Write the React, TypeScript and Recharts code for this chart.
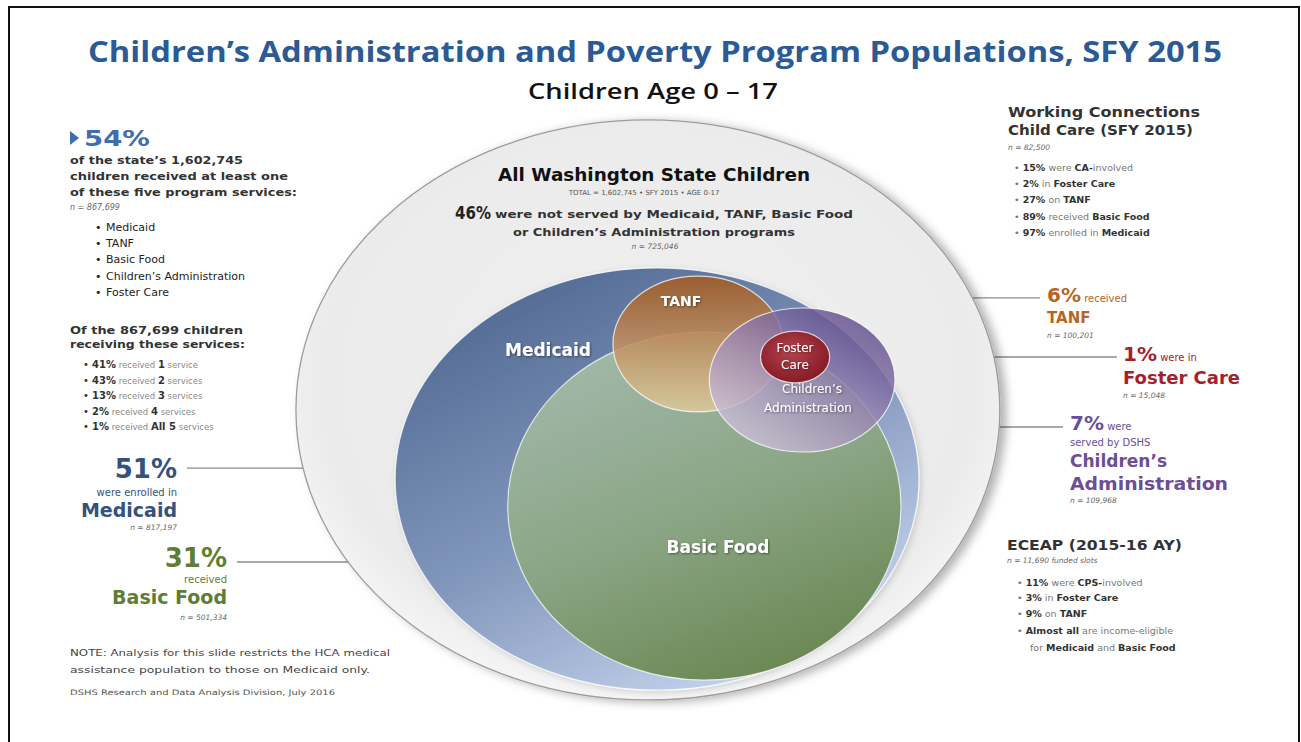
import React from 'react';
import { ScatterChart, Scatter, XAxis, YAxis, ReferenceLine } from 'recharts';

const W = 1301;
const H = 742;

// Euler circles (outer circle ~100 units); the slide is stretched so each has its own x/y radius
const groups = ['All Washington State Children', 'Medicaid', 'Basic Food', 'TANF', "Children's Administration", 'Foster Care'];
const centerX = [-0.6, 2.0, 15.4, 13.6, 43.1, 41.1];
const centerY = [2.1, -21.9, -31.3, 25.0, 12.5, 20.5];
const radiusX = [99.7, 74.2, 55.7, 24.1, 26.3, 9.8];
const radiusY = [100.7, 73.3, 60.4, 23.6, 25.0, 9.0];
const counts = ['1,602,745', '817,197', '501,334', '100,201', '109,968', '15,048'];
const shares = [100, 51, 31, 6, 7, 1];

// leader lines from circle to its callout
const calloutFromX = [-60.3, -22.1, 24.6, 45.9, 47.3];
const calloutToX = [-131.2, -117, 110.5, 132.3, 117];
const calloutY = [-18.1, -50.7, 41, 20.5, -3.8];

// services received by the 867,699 served children
const serviceShares = [41, 43, 13, 2, 1];
const serviceCounts = ['1', '2', '3', '4', 'All 5'];
const serviceWord = ['service', 'services', 'services', 'services', 'services'];
const programList = ['Medicaid', 'TANF', 'Basic Food', 'Children’s Administration', 'Foster Care'];

// pixels per unit
const PX = 3.53;
const PY = 2.88;
const CX0 = 650;
const CY0 = 416;

const circleData = groups.map((g, i) => ({ name: g, x: centerX[i], y: centerY[i], rx: radiusX[i], ry: radiusY[i] }));

const fills = ['url(#gAll)', 'url(#gMed)', 'url(#gFood)', 'url(#gTanf)', 'url(#gCa)', 'url(#gFoster)'];
const opac = [1, 1, 1, 0.88, 0.8, 1];

const CircleShape = (props: any) => {
  const { cx, cy, payload } = props;
  const i = groups.indexOf(payload.name);
  return (
    <ellipse
      cx={cx}
      cy={cy}
      rx={payload.rx * PX}
      ry={payload.ry * PY}
      fill={fills[i]}
      fillOpacity={opac[i]}
      stroke={i === 0 ? '#9c9c9c' : 'rgba(255,255,255,0.75)'}
      strokeWidth={i === 0 ? 1.3 : 1.2}
      filter={i === 0 ? 'url(#outerShadow)' : i === 1 ? 'url(#softShadow)' : undefined}
    />
  );
};

const SANS = '"DejaVu Sans", Verdana, sans-serif';

const T = ({ x, y, s, w = 400, c = '#333', a = 'start', i = false, len, f = SANS, children, sh }: any) => (
  <text
    x={x}
    y={y}
    fontSize={s}
    fontWeight={w}
    fill={c}
    textAnchor={a}
    fontStyle={i ? 'italic' : 'normal'}
    fontFamily={f}
    textLength={len}
    lengthAdjust={len ? 'spacingAndGlyphs' : undefined}
    filter={sh ? 'url(#txtShadow)' : undefined}
  >
    {children}
  </text>
);

const B = ({ children }: any) => <tspan fontWeight={700} fill="#333">{children}</tspan>;

export default function App() {
  const xMin = -CX0 / PX;
  const xMax = (W - CX0) / PX;
  const yMax = CY0 / PY;
  const yMin = (CY0 - H) / PY;

  return (
    <div style={{ position: 'absolute', left: 0, top: 0, width: W, height: H, background: '#fff', overflow: 'hidden' }}>
      <div style={{ position: 'absolute', left: 8, top: 6, width: 1288, height: 760, border: '2px solid #111' }} />
      <div style={{ position: 'absolute', left: 0, top: 0 }}>
        <ScatterChart width={W} height={H} margin={{ top: 0, right: 0, bottom: 0, left: 0 }}>
          <defs>
            <radialGradient id="gAll" cx="50%" cy="45%" r="55%">
              <stop offset="0%" stopColor="#f0f0f0" />
              <stop offset="85%" stopColor="#ebebeb" />
              <stop offset="100%" stopColor="#f5f5f5" />
            </radialGradient>
            <linearGradient id="gMed" x1="0.15" y1="0.05" x2="0.75" y2="1">
              <stop offset="0" stopColor="#506892" />
              <stop offset="0.5" stopColor="#8196bb" />
              <stop offset="1" stopColor="#cbd9f2" />
            </linearGradient>
            <linearGradient id="gFood" x1="0.3" y1="0" x2="0.75" y2="1">
              <stop offset="0" stopColor="#a2b8aa" />
              <stop offset="0.5" stopColor="#8aa585" />
              <stop offset="1" stopColor="#68854f" />
            </linearGradient>
            <linearGradient id="gTanf" x1="0.5" y1="0" x2="0.5" y2="1">
              <stop offset="0" stopColor="#a25a20" />
              <stop offset="0.45" stopColor="#bd895a" />
              <stop offset="1" stopColor="#dccb9c" />
            </linearGradient>
            <linearGradient id="gCa" x1="0.85" y1="0.1" x2="0.2" y2="0.9">
              <stop offset="0" stopColor="#5a4688" />
              <stop offset="0.5" stopColor="#9a86b5" />
              <stop offset="1" stopColor="#ccc0d8" />
            </linearGradient>
            <radialGradient id="gFoster" cx="45%" cy="40%" r="60%">
              <stop offset="0" stopColor="#b2444c" />
              <stop offset="1" stopColor="#861a26" />
            </radialGradient>
            <filter id="outerShadow" x="-10%" y="-10%" width="125%" height="125%">
              <feDropShadow dx="6" dy="2" stdDeviation="5" floodColor="#000" floodOpacity="0.3" />
            </filter>
            <filter id="softShadow" x="-10%" y="-10%" width="125%" height="125%">
              <feDropShadow dx="2" dy="2" stdDeviation="3" floodColor="#000" floodOpacity="0.15" />
            </filter>
          </defs>
          <XAxis type="number" dataKey="x" hide domain={[xMin, xMax]} allowDataOverflow />
          <YAxis type="number" dataKey="y" hide domain={[yMin, yMax]} allowDataOverflow />
          <Scatter data={circleData} shape={CircleShape} isAnimationActive={false} />
          {calloutY.map((y, i) => (
            <ReferenceLine
              key={i}
              segment={[{ x: calloutFromX[i], y }, { x: calloutToX[i], y }]}
              stroke="#8c8c8c"
              strokeWidth={1.4}
            />
          ))}
        </ScatterChart>
      </div>

      <svg width={W} height={H} style={{ position: 'absolute', left: 0, top: 0, pointerEvents: 'none' }}>
        <defs>
          <filter id="txtShadow" x="-5%" y="-20%" width="110%" height="150%">
            <feDropShadow dx="1" dy="1" stdDeviation="0.8" floodColor="#000" floodOpacity="0.45" />
          </filter>
        </defs>

        <T x={88} y={62} s={28} w={700} c="#2b5a95" f='"Open Sans", sans-serif' len={1134}>
          Children’s Administration and Poverty Program Populations, SFY 2015
        </T>
        <T x={528} y={99} s={21} w={600} c="#111" f='"Open Sans", sans-serif' len={250}>
          Children Age 0 – 17
        </T>

        {/* left block */}
        <path d="M70,131 L79,138 L70,145 Z" fill="#3d6eb0" />
        <T x={84} y={146} s={22} w={700} c="#3d6eb0" len={66}>54%</T>
        <T x={70} y={164} s={11} w={700} len={173}>of the state’s {counts[0]}</T>
        <T x={70} y={180} s={11} w={700} len={218}>children received at least one</T>
        <T x={70} y={196} s={11} w={700} len={227}>of these five program services:</T>
        <T x={70} y={210} s={8} i c="#666">n = 867,699</T>
        {programList.map((p, i) => (
          <g key={p}>
            <T x={95} y={231 + i * 16.2} s={11} c="#222">•</T>
            <T x={106} y={231 + i * 16.2} s={11} c="#222">{p}</T>
          </g>
        ))}

        <T x={70} y={334} s={11} w={700} len={173}>Of the 867,699 children</T>
        <T x={70} y={348} s={11} w={700} len={175}>receiving these services:</T>
        {serviceShares.map((v, i) => (
          <T key={i} x={83} y={368 + i * 15.5} s={10}>
            <tspan>•  </tspan>
            <B>{v}%</B>
            <tspan fontSize={8.5} fill="#888"> received </tspan>
            <B>{serviceCounts[i]}</B>
            <tspan fontSize={8.5} fill="#888"> {serviceWord[i]}</tspan>
          </T>
        ))}

        <T x={177} y={478} s={26} w={700} c="#34527e" a="end">{shares[1]}%</T>
        <T x={177} y={496} s={10} c="#34527e" a="end">were enrolled in</T>
        <T x={177} y={517} s={19} w={700} c="#34527e" a="end">Medicaid</T>
        <T x={177} y={530} s={7.5} i c="#666" a="end">n = {counts[1]}</T>

        <T x={227} y={567} s={26} w={700} c="#5e7e35" a="end">{shares[2]}%</T>
        <T x={227} y={583} s={10} c="#5e7e35" a="end">received</T>
        <T x={227} y={604} s={19} w={700} c="#5e7e35" a="end">Basic Food</T>
        <T x={227} y={620} s={7.5} i c="#666" a="end">n = {counts[2]}</T>

        <T x={70} y={656} s={9} c="#444" len={320}>NOTE: Analysis for this slide restricts the HCA medical</T>
        <T x={70} y={673} s={9} c="#444" len={300}>assistance population to those on Medicaid only.</T>
        <T x={70} y={695} s={7.5} c="#555" len={265}>DSHS Research and Data Analysis Division, July 2016</T>

        {/* outer circle header */}
        <T x={498} y={181} s={17} w={700} c="#111" len={312}>All Washington State Children</T>
        <T x={644} y={195} s={7} c="#555" a="middle">TOTAL = {counts[0]} • SFY 2015 • AGE 0-17</T>
        <T x={455} y={219} s={17} w={700} c="#222" len={36}>46%</T>
        <T x={495} y={218} s={11} w={700} c="#333" len={358}>were not served by Medicaid, TANF, Basic Food</T>
        <T x={513} y={236} s={11} w={700} c="#333" len={282}>or Children’s Administration programs</T>
        <T x={655} y={249} s={7.5} i c="#666" a="middle">n = 725,046</T>

        {/* circle labels */}
        <T x={548} y={356} s={17} w={700} c="#fff" a="middle" sh>Medicaid</T>
        <T x={681} y={306} s={14} w={700} c="#fff" a="middle" sh>TANF</T>
        <T x={795} y={352} s={12} c="#fff" a="middle" sh>Foster</T>
        <T x={795} y={369} s={12} c="#fff" a="middle" sh>Care</T>
        <T x={812} y={393} s={12} c="#fff" a="middle" sh>Children’s</T>
        <T x={808} y={412} s={12} c="#fff" a="middle" sh>Administration</T>
        <T x={718} y={553} s={17} w={700} c="#fff" a="middle" sh>Basic Food</T>

        {/* right callouts */}
        <T x={1047} y={302} s={20} w={700} c="#b8651f">{shares[3]}%<tspan fontSize={10} fontWeight={400}> received</tspan></T>
        <T x={1047} y={323} s={15} w={700} c="#b8651f">TANF</T>
        <T x={1047} y={338} s={7.5} i c="#666">n = {counts[3]}</T>

        <T x={1123} y={361} s={20} w={700} c="#a3212b">{shares[5]}%<tspan fontSize={10} fontWeight={400}> were in</tspan></T>
        <T x={1123} y={384} s={18} w={700} c="#a3212b" len={117}>Foster Care</T>
        <T x={1123} y={398} s={7.5} i c="#666">n = {counts[5]}</T>

        <T x={1070} y={430} s={20} w={700} c="#6b4e96">{shares[4]}%<tspan fontSize={10} fontWeight={400}> were</tspan></T>
        <T x={1070} y={446} s={10} c="#6b4e96">served by DSHS</T>
        <T x={1070} y={467} s={17} w={700} c="#6b4e96">Children’s</T>
        <T x={1070} y={490} s={17} w={700} c="#6b4e96" len={158}>Administration</T>
        <T x={1070} y={503} s={7.5} i c="#666">n = {counts[4]}</T>

        {/* WCCC */}
        <T x={1008} y={117} s={14} w={700} c="#333" len={192}>Working Connections</T>
        <T x={1008} y={135} s={14} w={700} c="#333" len={185}>Child Care (SFY 2015)</T>
        <T x={1008} y={150} s={7.5} i c="#666">n = 82,500</T>
        <T x={1014} y={171} s={9.5} c="#777">•  <B>15%</B> were <B>CA-</B>involved</T>
        <T x={1014} y={187} s={9.5} c="#777">•  <B>2%</B> in <B>Foster Care</B></T>
        <T x={1014} y={203} s={9.5} c="#777">•  <B>27%</B> on <B>TANF</B></T>
        <T x={1014} y={220} s={9.5} c="#777">•  <B>89%</B> received <B>Basic Food</B></T>
        <T x={1014} y={236} s={9.5} c="#777">•  <B>97%</B> enrolled in <B>Medicaid</B></T>

        {/* ECEAP */}
        <T x={1007} y={550} s={14} w={700} c="#333" len={175}>ECEAP (2015-16 AY)</T>
        <T x={1007} y={563} s={7.5} i c="#666">n = 11,690 funded slots</T>
        <T x={1017} y={586} s={9.5} c="#777">•  <B>11%</B> were <B>CPS-</B>involved</T>
        <T x={1017} y={601} s={9.5} c="#777">•  <B>3%</B> in <B>Foster Care</B></T>
        <T x={1017} y={617} s={9.5} c="#777">•  <B>9%</B> on <B>TANF</B></T>
        <T x={1017} y={634} s={9.5} c="#777">•  <B>Almost all</B> are income-eligible</T>
        <T x={1030} y={651} s={9.5} c="#777">for <B>Medicaid</B> and <B>Basic Food</B></T>
      </svg>
    </div>
  );
}
